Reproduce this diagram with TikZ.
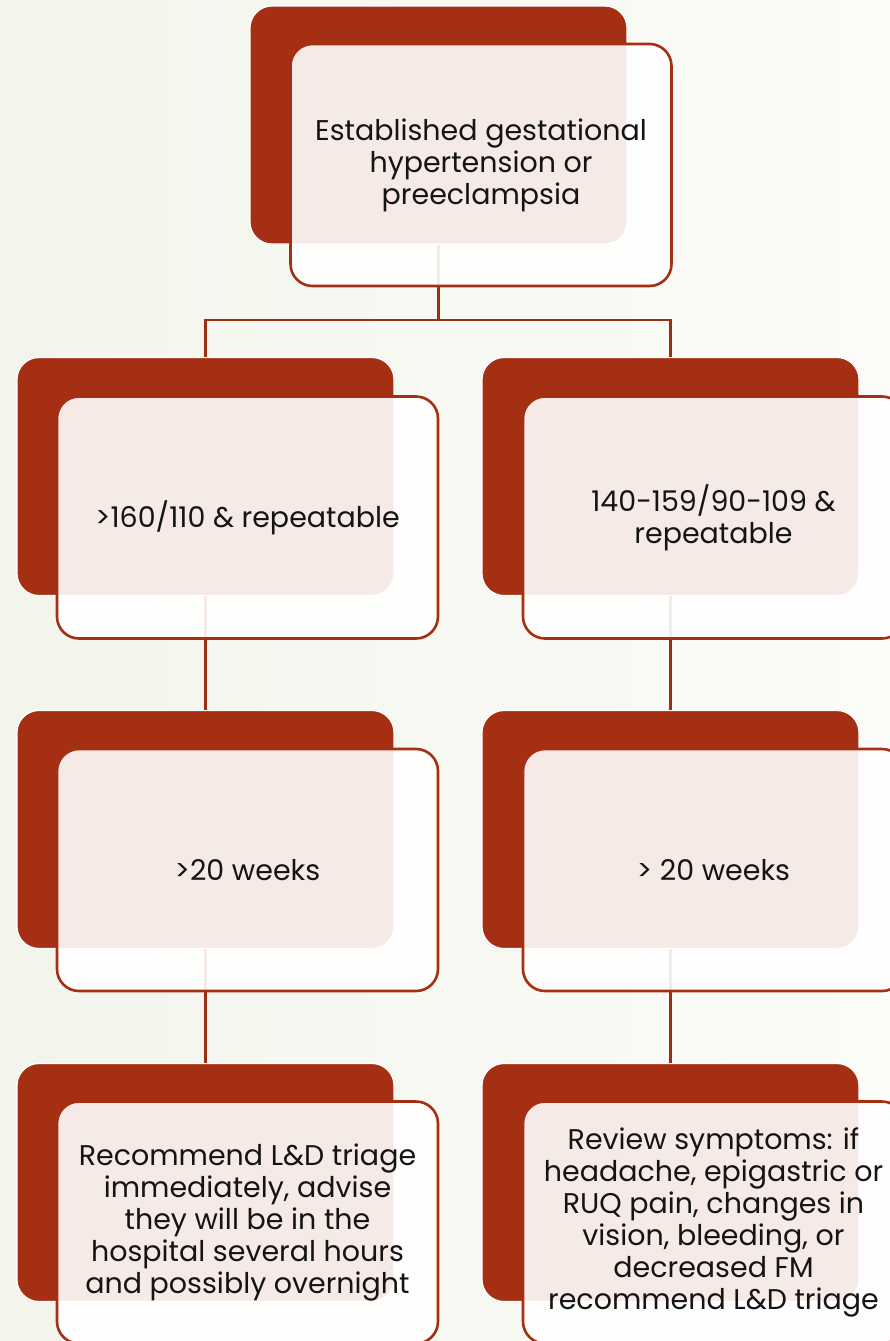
\documentclass[tikz,border=0pt]{standalone}
\usepackage{fontspec}
\setsansfont{Poppins}
\definecolor{rust}{HTML}{A52F13}
\definecolor{linkred}{HTML}{9C2E14}
\definecolor{pagebgL}{HTML}{F3F5EC}
\definecolor{pagebgR}{HTML}{FBFBF8}
\definecolor{inktext}{HTML}{141414}
\tikzset{
  backbox/.style={rectangle, rounded corners=22pt, fill=rust, draw=white,
    line width=1.2pt, minimum width=377pt, minimum height=238pt, inner sep=0pt},
  frontbox/.style={rectangle, rounded corners=22pt, draw=rust, line width=2.6pt,
    fill=white, fill opacity=0.9, text opacity=1, minimum width=381pt,
    minimum height=242pt, inner sep=0pt, align=center, text=inktext,
    font=\sffamily\fontsize{28.5}{32}\selectfont},
  link/.style={draw=linkred, line width=2.6pt}
}
\begin{document}
\begin{tikzpicture}[x=1pt,y=-1pt]
  % page and background
  \useasboundingbox (0,0) rectangle (890,1341);
  \clip (0,0) rectangle (890,1341);
  \shade[left color=pagebgL, right color=pagebgR] (0,0) rectangle (890,1341);

  % back tiles (solid rust)
  \node[backbox] (b0) at (438.5,125) {};
  \node[backbox] (bL1) at (205.5,476.5) {};
  \node[backbox] (bR1) at (670.5,476.5) {};
  \node[backbox] (bL2) at (205.5,829.5) {};
  \node[backbox] (bR2) at (670.5,829.5) {};
  \node[backbox] (bL3) at (205.5,1182.5) {};
  \node[backbox] (bR3) at (670.5,1182.5) {};

  % connectors, laid under the front cards
  \coordinate (bus) at (438.5,320);
  \path[link] (b0.south) -- (bus);
  \path[link] (bus) -| (bL1.north);
  \path[link] (bus) -| (bR1.north);
  \path[link] (bL1.south) -- (bL2.north);
  \path[link] (bR1.south) -- (bR2.north);
  \path[link] (bL2.south) -- (bL3.north);
  \path[link] (bR2.south) -- (bR3.north);

  % front cards with the text
  \node[frontbox] (f0) at (481,165)
    {Established gestational\\hypertension or\\preeclampsia};
  \node[frontbox] (fL1) at (247.5,517.5) {>160/110 \& repeatable};
  \node[frontbox] (fR1) at (713.5,517.5) {140-159/90-109 \&\\repeatable};
  \node[frontbox] (fL2) at (247.5,870) {>20 weeks};
  \node[frontbox] (fR2) at (713.5,870) {> 20 weeks};
  \node[frontbox] (fL3) at (247.5,1222.5)
    {Recommend L\&D triage\\immediately, advise\\they will be in the\\hospital several hours\\and possibly overnight};
  \node[frontbox] (fR3) at (713.5,1222.5)
    {Review symptoms: if\\headache, epigastric or\\RUQ pain, changes in\\vision, bleeding, or\\decreased FM\\recommend L\&D triage};
\end{tikzpicture}
\end{document}
